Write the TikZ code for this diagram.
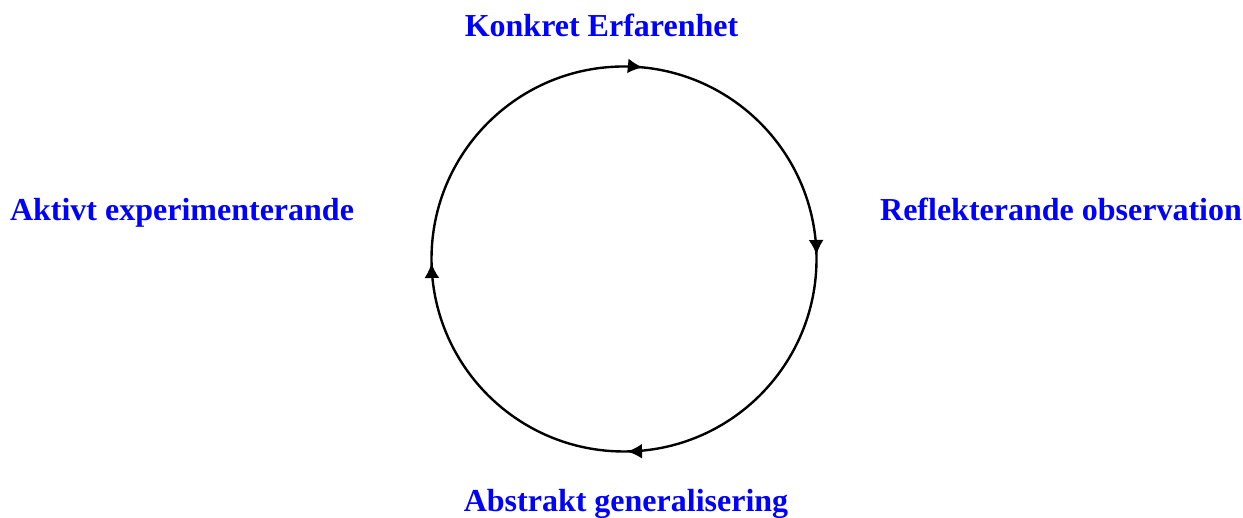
\documentclass[tikz,border=0pt]{standalone}
\usepackage{fontspec}
\setmainfont{Liberation Serif}
\usetikzlibrary{arrows.meta,decorations.markings}

\begin{document}
\begin{tikzpicture}[
x=1pt,y=1pt,
every node/.style={
text=blue,
font=\fontsize{32}{38}\selectfont\bfseries,
anchor=base,
inner sep=0pt
},
ring/.style={
line width=2.4pt,
postaction={decorate},
decoration={markings,
mark=at position 0.0156 with {\arrow{Latex[length=15pt,width=15pt]}},
mark=at position 0.2467 with {\arrow{Latex[length=15pt,width=15pt]}},
mark=at position 0.4975 with {\arrow{Latex[length=15pt,width=15pt]}},
mark=at position 0.7467 with {\arrow{Latex[length=15pt,width=15pt]}}}
}
]
\useasboundingbox (0,0) rectangle (1243,518);

\coordinate (O) at (624,259);

\node (K) at (601.5,481) {Konkret Erfarenhet};

\node (R) at (1061,297) {Reflekterande observation};

\node (A) at (626,6) {Abstrakt generalisering};

\node (E) at (182,297) {Aktivt experimenterande};

\draw[ring] (O) ++(90:192.5) arc[start angle=90, end angle=-270, radius=192.5];

\end{tikzpicture}
\end{document}
